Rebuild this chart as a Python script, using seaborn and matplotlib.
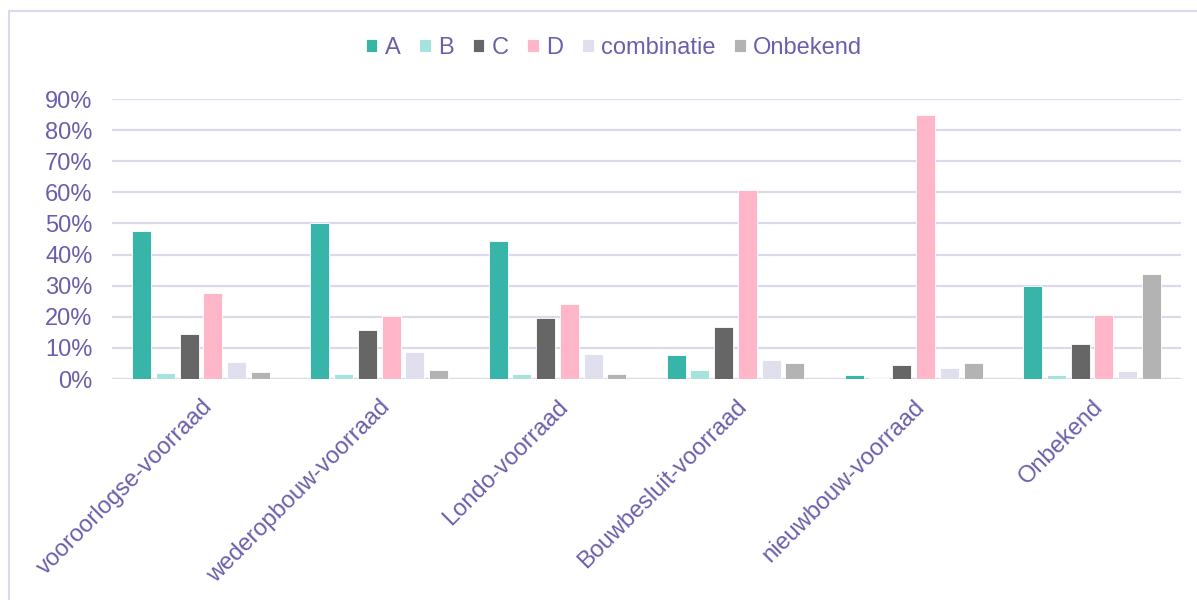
import pandas as pd
import seaborn as sns
import matplotlib.pyplot as plt
from matplotlib.lines import Line2D
from matplotlib.ticker import PercentFormatter

# data (fractions)
categories = ["vooroorlogse-voorraad", "wederopbouw-voorraad", "Londo-voorraad",
              "Bouwbesluit-voorraad", "nieuwbouw-voorraad", "Onbekend"]
series = ["A", "B", "C", "D", "combinatie", "Onbekend"]
val_a = [0.475, 0.503, 0.443, 0.076, 0.012, 0.298]
val_b = [0.019, 0.015, 0.015, 0.028, 0.003, 0.012]
val_c = [0.146, 0.157, 0.196, 0.166, 0.044, 0.113]
val_d = [0.275, 0.202, 0.240, 0.607, 0.850, 0.205]
val_comb = [0.054, 0.087, 0.079, 0.060, 0.034, 0.025]
val_onb = [0.023, 0.028, 0.016, 0.052, 0.050, 0.339]
colors = ["#38b5a8", "#a6e3de", "#666666", "#ffb6c8", "#e0dfee", "#b3b3b3"]

txt = "#6a5fac"
grid = "#dcd9ec"

rows = []
for name, vals in zip(series, [val_a, val_b, val_c, val_d, val_comb, val_onb]):
    for cat, v in zip(categories, vals):
        rows.append({"cat": cat, "serie": name, "val": v})
df = pd.DataFrame(rows)

sns.set_style("white")
plt.rcParams["font.family"] = ["Liberation Sans", "DejaVu Sans"]

fig = plt.figure(figsize=(11.97, 6.0), dpi=100)
ax = fig.add_axes([112 / 1197, 1 - 379 / 600, (1181 - 112) / 1197, 280 / 600])

sns.barplot(data=df, x="cat", y="val", hue="serie", order=categories,
            hue_order=series, palette=colors, saturation=1, width=0.8, gap=0.2,
            edgecolor="white", linewidth=0.6, ax=ax)

ax.set_ylim(0, 0.9)
ax.set_yticks([i / 10 for i in range(10)])
ax.yaxis.set_major_formatter(PercentFormatter(1.0, decimals=0))
ax.set_xlabel("")
ax.set_ylabel("")
ax.grid(axis="y", color=grid, linewidth=1.6)
ax.set_axisbelow(True)
for s in ax.spines.values():
    s.set_visible(False)
ax.axhline(0, color=grid, linewidth=1.6, zorder=0)
ax.tick_params(axis="y", length=0, pad=14, labelsize=17, labelcolor=txt)
ax.tick_params(axis="x", length=0, pad=12, labelsize=17, labelcolor=txt)
for lab in ax.get_xticklabels():
    lab.set_rotation(45)
    lab.set_ha("right")
    lab.set_rotation_mode("anchor")

handles, labels = ax.get_legend_handles_labels()
ax.get_legend().remove()
leg = fig.legend(handles, labels, loc="center", bbox_to_anchor=(614 / 1197, 1 - 48 / 600),
                 ncol=6, frameon=False, fontsize=17, handlelength=0.5, handleheight=0.5,
                 handletextpad=0.3, columnspacing=0.8, labelcolor=txt)

# chart border (left and top edges visible)
fig.add_artist(Line2D([9 / 1197, 9 / 1197], [0, 1 - 11 / 600], color=grid, linewidth=1.5))
fig.add_artist(Line2D([9 / 1197, 1], [1 - 11 / 600, 1 - 11 / 600], color=grid, linewidth=1.5))

fig.savefig("out.png", dpi=100)
